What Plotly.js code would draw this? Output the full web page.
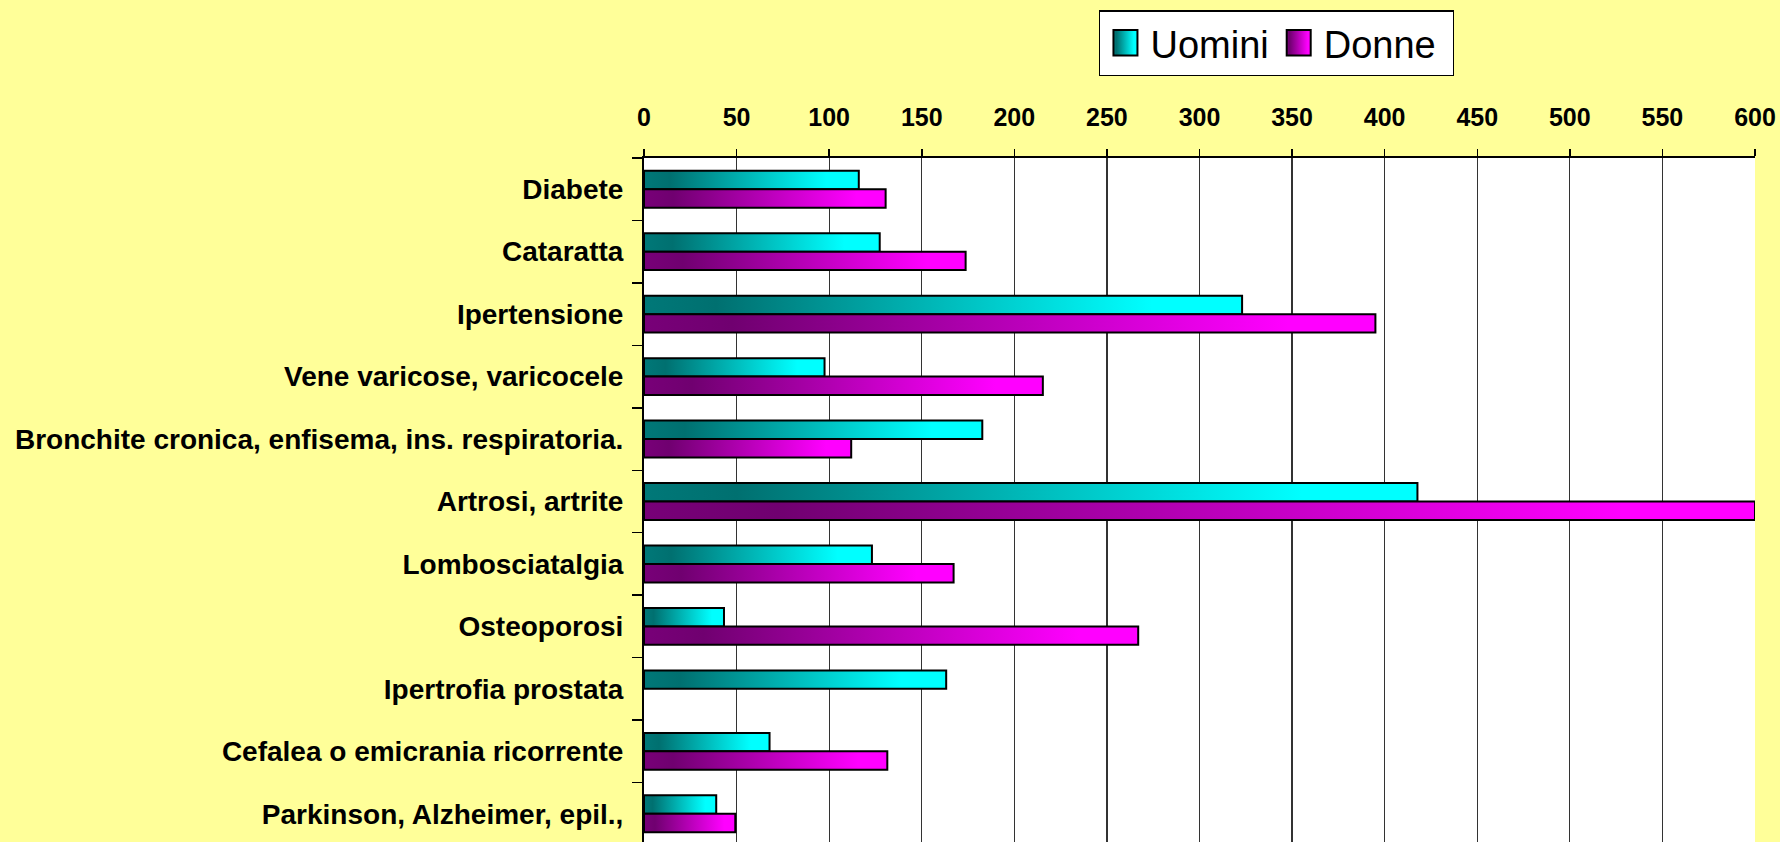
<!DOCTYPE html>
<html>
<head>
<meta charset="utf-8">
<script src="https://cdn.plot.ly/plotly-3.0.1.min.js"></script>
<style>
  html, body { margin: 0; padding: 0; background: #FFFF99; overflow: hidden; }
  #chart { width: 1780px; height: 845px; }
</style>
</head>
<body>
<div id="chart"></div>
<script>
const categories = [
  "Diabete",
  "Cataratta",
  "Ipertensione",
  "Vene varicose, varicocele",
  "Bronchite cronica, enfisema, ins. respiratoria.",
  "Artrosi, artrite",
  "Lombosciatalgia",
  "Osteoporosi",
  "Ipertrofia prostata",
  "Cefalea o emicrania ricorrente",
  "Parkinson, Alzheimer, epil.,"
];
const uomini = [116, 127.3, 323, 97.5, 182.7, 417.7, 123.1, 43.2, 163.2, 67.8, 39];
const donne  = [130.5, 173.7, 395, 215.4, 111.9, 600, 167.2, 266.9, null, 131.4, 49.3];
const seriesNames = ["Uomini", "Donne"];
const tickValues = [0, 50, 100, 150, 200, 250, 300, 350, 400, 450, 500, 550, 600];

const FONT = "'Liberation Sans', Arial, sans-serif";

const data = [
  {
    type: "bar", orientation: "h", name: seriesNames[0],
    y: categories, x: uomini,
    marker: { color: "#00C0C0", line: { color: "#000000", width: 2 } }
  },
  {
    type: "bar", orientation: "h", name: seriesNames[1],
    y: categories, x: donne,
    marker: { color: "#C000C0", line: { color: "#000000", width: 2 } }
  }
];

const layout = {
  width: 1780, height: 845,
  paper_bgcolor: "#FFFF99",
  plot_bgcolor: "#FFFFFF",
  margin: { l: 644, r: 25, t: 158, b: 0 },
  barmode: "group",
  bargap: 0.41,
  bargroupgap: 0,
  font: { family: FONT, color: "#000000" },
  xaxis: {
    side: "top",
    range: [0, 600],
    tickvals: tickValues,
    ticktext: tickValues.map(String),
    showgrid: true, gridcolor: "#333333", gridwidth: 1.2,
    zeroline: false,
    showline: true, linecolor: "#000000", linewidth: 2,
    ticks: "outside", ticklen: 7, tickcolor: "#000000", tickwidth: 1.5,
    ticklabelstandoff: 13,
    tickfont: { family: FONT, size: 25, weight: "bold", color: "#000000" },
    fixedrange: true
  },
  yaxis: {
    type: "category",
    autorange: "reversed",
    tickson: "boundaries",
    showgrid: false, zeroline: false,
    showline: true, linecolor: "#000000", linewidth: 2,
    ticks: "outside", ticklen: 10, tickcolor: "#000000", tickwidth: 1.5,
    ticklabelstandoff: 13,
    tickfont: { family: FONT, size: 28, weight: "bold", color: "#000000" },
    fixedrange: true
  },
  showlegend: true,
  legend: {
    orientation: "h",
    x: 0.4095, xanchor: "left",
    y: 1.2154, yanchor: "top",
    bgcolor: "#FFFFFF", bordercolor: "#000000", borderwidth: 1.5,
    font: { family: FONT, size: 38, color: "#000000" },
    itemwidth: 40,
    traceorder: "normal"
  }
};

const gd = document.getElementById("chart");
Plotly.newPlot(gd, data, layout, { staticPlot: true, displayModeBar: false }).then(function () {
  const NS = "http://www.w3.org/2000/svg";
  const svg = gd.querySelector(".main-svg");
  let defs = svg.querySelector("defs");
  if (!defs) { defs = document.createElementNS(NS, "defs"); svg.insertBefore(defs, svg.firstChild); }
  function addGrad(id, stops) {
    const g = document.createElementNS(NS, "linearGradient");
    g.setAttribute("id", id);
    g.setAttribute("x1", "0"); g.setAttribute("y1", "0");
    g.setAttribute("x2", "1"); g.setAttribute("y2", "0");
    stops.forEach(function (s) {
      const st = document.createElementNS(NS, "stop");
      st.setAttribute("offset", s[0]);
      st.setAttribute("stop-color", s[1]);
      g.appendChild(st);
    });
    defs.appendChild(g);
  }
  addGrad("gradU", [[0, "#007878"], [0.12, "#007070"], [0.85, "#00FFFF"], [1, "#00FFFF"]]);
  addGrad("gradD", [[0, "#780078"], [0.12, "#700070"], [0.88, "#FF00FF"], [1, "#FF00FF"]]);
  const ids = ["gradU", "gradD"];
  gd.querySelectorAll(".barlayer .trace").forEach(function (tr, i) {
    tr.querySelectorAll("path").forEach(function (p) { p.style.fill = "url(#" + ids[i] + ")"; });
  });
  gd.querySelectorAll(".legend .traces").forEach(function (tr, i) {
    tr.querySelectorAll("path.legendbar, .legendpoints path").forEach(function (p) {
      p.setAttribute("d", "M12,12.8H-12V-12.8H12Z");
      p.style.fill = "url(#" + ids[i] + ")";
      p.style.stroke = "#000000";
      p.style.strokeWidth = "2px";
    });
  });
  const bg = gd.querySelector(".legend rect.bg");
  if (bg) bg.setAttribute("width", 354);
});
</script>
</body>
</html>
